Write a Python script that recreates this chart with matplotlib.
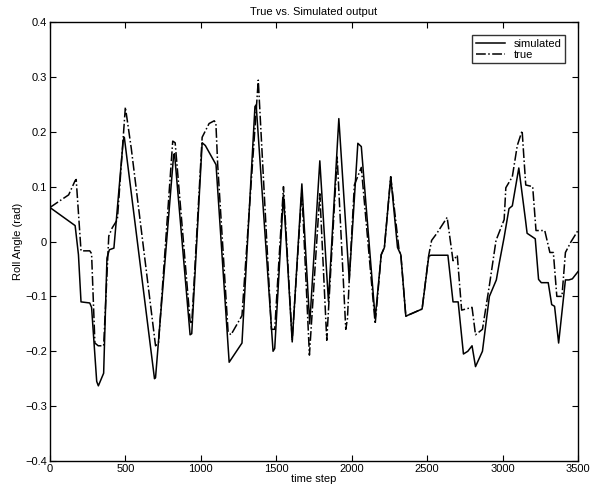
import matplotlib
matplotlib.use("Agg")
import matplotlib.pyplot as plt
import numpy as np

plt.rcParams['font.family'] = ['Liberation Sans', 'DejaVu Sans']

# simulated output (solid)
sim_t = [0, 167, 189, 206, 264, 276, 310, 321, 356, 378, 394, 424, 486, 493,
         693, 700, 820, 826, 929, 940, 1009, 1030, 1101, 1188, 1273, 1359, 1367,
         1479, 1490, 1548, 1606, 1670, 1722, 1789, 1846, 1915, 1984, 2041, 2064,
         2156, 2196, 2217, 2259, 2304, 2326, 2359, 2467, 2511, 2525, 2638, 2672,
         2706, 2741, 2770, 2798, 2821, 2867, 2913, 2959, 2978, 3011, 3043, 3065,
         3108, 3152, 3163, 3217, 3239, 3257, 3303, 3326, 3345, 3372, 3417, 3440,
         3463, 3500]
sim_y = [0.062, 0.029, -0.024, -0.110, -0.112, -0.120, -0.255, -0.263, -0.240, -0.030,
         -0.015, -0.012, 0.185, 0.190,
         -0.250, -0.248, 0.158, 0.160, -0.170, -0.168, 0.180, 0.175, 0.140, -0.220,
         -0.185, 0.246, 0.249,
         -0.200, -0.195, 0.085, -0.183, 0.105, -0.150, 0.147, -0.109, 0.224, -0.070,
         0.179, 0.173,
         -0.140, -0.024, -0.011, 0.118, -0.011, -0.024, -0.136, -0.123, -0.027, -0.025,
         -0.025, -0.110,
         -0.110, -0.205, -0.200, -0.190, -0.228, -0.200, -0.100, -0.070, -0.040, 0.008,
         0.060, 0.065,
         0.134, 0.040, 0.015, 0.005, -0.069, -0.075, -0.075, -0.115, -0.118, -0.185,
         -0.070, -0.070,
         -0.068, -0.055]

# true output (dash-dot)
true_t = [0, 59, 124, 167, 174, 206, 222, 264, 276, 298, 320, 356, 390, 413,
          447, 500, 539, 700, 720, 814, 830, 929, 940, 1009, 1055, 1089, 1100, 1112,
          1181, 1200, 1273, 1381, 1468, 1490, 1548, 1606, 1670, 1720, 1789, 1835,
          1904, 1961, 1972, 1984, 2018, 2064, 2156, 2196, 2217, 2259, 2315, 2326,
          2359, 2467, 2511, 2530, 2565, 2633, 2672, 2700, 2729, 2798, 2821, 2867,
          2913, 2957, 3011, 3022, 3065, 3098, 3130, 3141, 3154, 3200, 3222, 3280,
          3314, 3337, 3360, 3394, 3417, 3455, 3500]
true_y = [0.062, 0.073, 0.085, 0.111, 0.113, -0.017, -0.017, -0.017, -0.022, -0.185,
          -0.190, -0.190, 0.010, 0.025,
          0.040, 0.245, 0.170, -0.190, -0.184, 0.183, 0.180, -0.145, -0.150, 0.190,
          0.215, 0.220, 0.216, 0.140,
          -0.165, -0.170, -0.135, 0.294, -0.160, -0.160, 0.100, -0.180, 0.092, -0.207,
          0.087, -0.180,
          0.154, -0.160, -0.141, -0.070, 0.103, 0.135, -0.150, -0.024, -0.011, 0.118,
          -0.017, -0.024,
          -0.136, -0.123, -0.025, 0.002, 0.015, 0.044, -0.035, -0.025, -0.125, -0.120,
          -0.170, -0.160,
          -0.080, 0.002, 0.040, 0.098, 0.118, 0.175, 0.202, 0.156, 0.103, 0.100, 0.020,
          0.020,
          -0.020, -0.020, -0.100, -0.100, -0.020, 0.000, 0.020]

fig = plt.figure(figsize=(6.09, 4.84), dpi=100)
ax = fig.add_axes([0.082, 0.0475, 0.867, 0.907])

ax.plot(sim_t, sim_y, color='black', lw=1.1, ls='-', label='simulated')
ax.plot(true_t, true_y, color='black', lw=1.1, ls='-.', label='true')

ax.set_xlim(0, 3500)
ax.set_ylim(-0.4, 0.4)
ax.set_xticks(np.arange(0, 3501, 500))
ax.set_yticks(np.arange(-0.4, 0.41, 0.1))
ax.set_yticklabels(['\u22120.4', '\u22120.3', '\u22120.2', '\u22120.1', '0',
                    '0.1', '0.2', '0.3', '0.4'])
ax.tick_params(direction='in', top=True, right=True, labelsize=8, length=4, pad=2)
for s in ax.spines.values():
    s.set_linewidth(1.0)

ax.set_title('True vs. Simulated output', fontsize=8, pad=5)
ax.set_xlabel('time step', fontsize=8, labelpad=0)
ax.set_ylabel('Roll Angle (rad)', fontsize=8, labelpad=2)

leg = ax.legend(loc='upper right', fontsize=8, frameon=True, fancybox=False,
                edgecolor='black', borderaxespad=1.2, handlelength=2.6,
                borderpad=0.3, labelspacing=0.1)
leg.get_frame().set_linewidth(1.0)

fig.savefig('out.png', dpi=100)
